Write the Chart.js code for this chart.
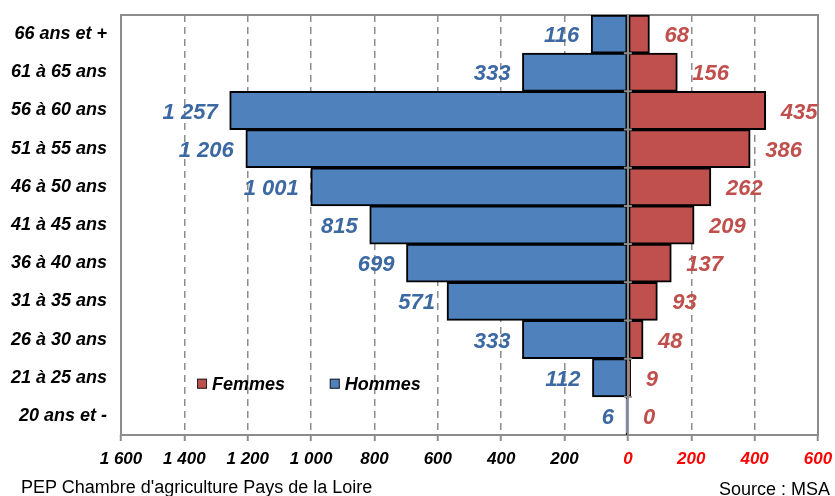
<!DOCTYPE html>
<html>
<head>
<meta charset="utf-8">
<script src="https://cdn.jsdelivr.net/npm/chart.js@4"></script>
<style>
  html, body { margin: 0; padding: 0; background: #fff; }
  #wrap { position: relative; width: 835px; height: 496px; }
  .note { position: absolute; font-family: "Liberation Sans", Arial, sans-serif; font-size: 18px; line-height: 21px; color: #000; white-space: nowrap; }
</style>
</head>
<body>
<div id="wrap">
  <canvas id="pyramide" width="835" height="496"></canvas>
  <div class="note" style="left:21px; top:477px;">PEP Chambre d'agriculture Pays de la Loire</div>
  <div class="note" style="right:5px; top:479px;">Source : MSA</div>
</div>
<script>
// tranches d'âge (du haut vers le bas)
const categories = ['66 ans et +', '61 à 65 ans', '56 à 60 ans', '51 à 55 ans', '46 à 50 ans',
    '41 à 45 ans', '36 à 40 ans', '31 à 35 ans', '26 à 30 ans', '21 à 25 ans', '20 ans et -'];
const hommes = [116, 333, 1257, 1206, 1001, 815, 699, 571, 333, 112, 6];
const femmes = [68, 156, 435, 386, 262, 209, 137, 93, 48, 9, 0];
const xTickLabels = ['1 600', '1 400', '1 200', '1 000', '800', '600', '400', '200', '0', '200', '400', '600'];

const BLUE = '#4f81bd', RED = '#c0504d';
const BLUE_TXT = '#3d69a3', RED_TXT = '#c0504d';
const FONT = '"Liberation Sans", Arial, sans-serif';

function fmt(v) {
    return String(v).replace(/\B(?=(\d{3})+(?!\d))/g, ' ');
}

// cadre, axe zéro, étiquettes de valeurs et légende
const decor = {
    id: 'decor',
    beforeDatasetsDraw(chart) {
        const ctx = chart.ctx, a = chart.chartArea;
        ctx.save();
        ctx.strokeStyle = '#8c8c8c';
        ctx.lineWidth = 2;
        ctx.strokeRect(a.left, a.top, a.right - a.left, a.bottom - a.top);
        ctx.restore();
    },
    afterDatasetsDraw(chart) {
        const ctx = chart.ctx, a = chart.chartArea;
        const x0 = chart.scales.x.getPixelForValue(0);
        const y = chart.scales.y;
        ctx.save();
        // axe vertical au zéro avec petites graduations
        ctx.strokeStyle = '#8c8c8c';
        ctx.lineWidth = 2;
        ctx.beginPath();
        ctx.moveTo(x0, a.top);
        ctx.lineTo(x0, a.bottom);
        const step = (a.bottom - a.top) / categories.length;
        for (let i = 1; i < categories.length; i++) {
            const yy = a.top + i * step;
            ctx.moveTo(x0 - 4, yy);
            ctx.lineTo(x0 + 4, yy);
        }
        ctx.stroke();

        // étiquettes
        ctx.font = 'italic bold 22px ' + FONT;
        ctx.textBaseline = 'middle';
        chart.getDatasetMeta(0).data.forEach((bar, i) => {
            ctx.fillStyle = BLUE_TXT;
            ctx.textAlign = 'right';
            ctx.fillText(fmt(hommes[i]), bar.x - 12, bar.y + 2);
        });
        chart.getDatasetMeta(1).data.forEach((bar, i) => {
            ctx.fillStyle = RED_TXT;
            ctx.textAlign = 'left';
            ctx.fillText(fmt(femmes[i]), bar.x + 15, bar.y + 2);
        });

        // légende dans la zone du graphique
        const items = [['Femmes', RED, -1360], ['Hommes', BLUE, -941]];
        const ly = y.getPixelForValue(9) + 6;
        ctx.font = 'italic bold 18px ' + FONT;
        ctx.textAlign = 'left';
        items.forEach(([label, color, v]) => {
            const lx = chart.scales.x.getPixelForValue(v);
            ctx.fillStyle = color;
            ctx.fillRect(lx, ly - 5, 10, 10);
            ctx.strokeStyle = '#222';
            ctx.lineWidth = 1;
            ctx.strokeRect(lx + 0.5, ly - 4.5, 9, 9);
            ctx.fillStyle = '#000';
            ctx.fillText(label, lx + 15, ly + 1);
        });
        ctx.restore();
    }
};

new Chart(document.getElementById('pyramide'), {
    type: 'bar',
    data: {
        labels: categories,
        datasets: [
            {
                label: 'Hommes',
                data: hommes.map(v => -v),
                backgroundColor: BLUE,
                borderColor: '#000',
                borderWidth: 2,
                borderSkipped: false,
                barPercentage: 1,
                categoryPercentage: 1,
                grouped: false
            },
            {
                label: 'Femmes',
                data: femmes,
                backgroundColor: RED,
                borderColor: '#000',
                borderWidth: 2,
                borderSkipped: false,
                barPercentage: 1,
                categoryPercentage: 1,
                grouped: false
            }
        ]
    },
    options: {
        indexAxis: 'y',
        responsive: false,
        animation: false,
        layout: { padding: { top: 15, right: 17, bottom: 26, left: 0 } },
        scales: {
            x: {
                min: -1600,
                max: 600,
                afterBuildTicks: s => {
                    s.ticks = xTickLabels.map((_, i) => ({ value: -1600 + i * 200 }));
                },
                afterFit: s => { s.height = 35; s.paddingLeft = 0; s.paddingRight = 0; },
                grid: {
                    color: c => (c.tick && (c.tick.value === -1600 || c.tick.value === 600 || c.tick.value === 0)) ? 'rgba(0,0,0,0)' : '#8c8c8c',
                    lineWidth: 1.5,
                    tickColor: '#8c8c8c',
                    tickLength: 6,
                    tickWidth: 2
                },
                border: { display: false, dash: [7, 5] },
                ticks: {
                    autoSkip: false,
                    maxRotation: 0,
                    padding: 8,
                    font: { family: FONT, size: 17, weight: 'bold', style: 'italic' },
                    color: c => c.tick.value >= 0 ? '#ff0000' : '#000',
                    callback: (v, i) => xTickLabels[i]
                }
            },
            y: {
                afterFit: s => { s.width = 121; s.paddingTop = 0; s.paddingBottom = 0; },
                grid: { display: false, drawTicks: false },
                border: { display: false },
                ticks: {
                    padding: 14,
                    font: { family: FONT, size: 18, weight: 'bold', style: 'italic' },
                    color: '#000'
                }
            }
        },
        plugins: {
            legend: { display: false },
            tooltip: { enabled: false }
        }
    },
    plugins: [decor]
});
</script>
</body>
</html>
